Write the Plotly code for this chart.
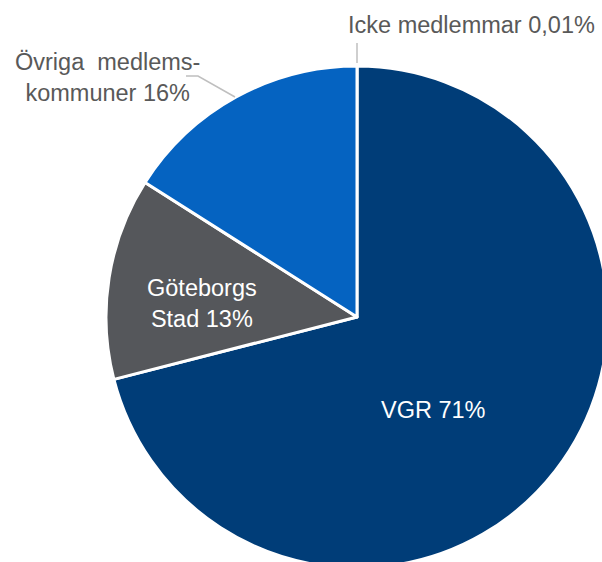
import plotly.graph_objects as go

labels = ["Icke medlemmar", "VGR", "Göteborgs Stad", "Övriga medlemskommuner"]
values = [0.01, 71, 13, 16]
label_texts = ["Icke medlemmar 0,01%", "VGR 71%", "Göteborgs<br>Stad 13%", "Övriga  medlems-<br>kommuner 16%"]
colors = ["#7F7F7F", "#003D78", "#55575B", "#0563C1"]

W, H = 620, 580
cx, cy, r = 357, 317, 251

def px(x):
    return x / W

def py(y):
    return 1 - y / H

fig = go.Figure(go.Pie(
    labels=labels,
    values=values,
    sort=False,
    direction="clockwise",
    rotation=0,
    marker=dict(colors=colors, line=dict(color="white", width=3)),
    textinfo="none",
    hoverinfo="label+percent",
    domain=dict(x=[px(cx - r), px(cx + r)], y=[py(cy + r), py(cy - r)]),
    showlegend=False,
))

font = "Liberation Sans, Arial, sans-serif"
ann = [
    (label_texts[0], 472, 25, "#595959"),
    (label_texts[1], 433, 410, "white"),
    (label_texts[2], 202, 303, "white"),
    (label_texts[3], 107, 77, "#595959"),
]
for t, x, y, c in ann:
    fig.add_annotation(x=px(x), y=py(y), xref="paper", yref="paper", text=t,
                       showarrow=False, align="center", xanchor="center", yanchor="middle",
                       font=dict(family=font, size=23.5, color=c))

line = dict(color="#BFBFBF", width=1.5)
fig.add_shape(type="line", xref="paper", yref="paper", x0=px(357), y0=py(43), x1=px(357), y1=py(63), line=line)
fig.add_shape(type="path", xref="paper", yref="paper",
              path=f"M {px(186)} {py(76)} L {px(198)} {py(76)} L {px(235)} {py(97)}", line=line)

fig.update_layout(width=W, height=H, margin=dict(l=0, r=0, t=0, b=0),
                  paper_bgcolor="white", plot_bgcolor="white")

fig.write_html("out.html", config={"displayModeBar": False},
               post_script="document.body.style.margin='0';document.body.style.overflow='hidden';")
